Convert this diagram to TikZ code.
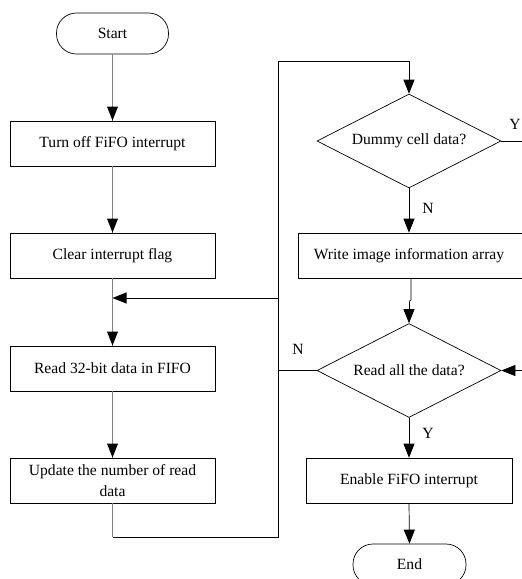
\documentclass[tikz,border=0pt]{standalone}
\usepackage{fontspec}
\setmainfont{Liberation Serif}
\usetikzlibrary{shapes.geometric,arrows.meta}
\begin{document}
\begin{tikzpicture}[x=1pt,y=-1pt,
  every node/.style={font=\fontsize{15.6}{18}\selectfont},
  proc/.style={draw,line width=0.7pt,minimum height=45pt,inner sep=1pt,align=center},
  term/.style={draw,line width=0.7pt,rounded corners=20pt,minimum width=112pt,minimum height=41pt},
  dec/.style={draw,line width=0.7pt,diamond,aspect=1.96,minimum width=184pt,minimum height=94pt,inner sep=0pt},
  conn/.style={line width=0.7pt},
  gconn/.style={line width=0.9pt,draw=black!50},
  arr/.style={-{Triangle[length=14pt,width=11pt]}},
  lbl/.style={inner sep=0pt}]
\useasboundingbox (0,0) rectangle (522,579);
\clip (0,0) rectangle (522,579);
% nodes
\node[term] (start) at (112.5,33.5) {Start};
\node[proc,minimum width=205pt] (off) at (112.5,143.5) {Turn off FiFO interrupt};
\node[proc,minimum width=205pt] (clr) at (112.5,255.5) {Clear interrupt flag};
\node[proc,minimum width=205pt] (rd) at (112.5,368.5) {Read 32-bit data in FIFO};
\node[proc,minimum width=205pt,font=\fontsize{15.6}{21.5}\selectfont] (upd) at (112.5,480.5) {Update the number of read\\data};
\node[dec] (dum) at (409,141) {Dummy cell data?};
\node[proc,minimum width=232pt] (wr) at (414,255.5) {};
\node at (409,255.5) {Write image information array};
\node[dec] (all) at (409,370.5) {Read all the data?};
\node[proc,minimum width=206pt] (en) at (409,480.5) {Enable FiFO interrupt};
\node[term,minimum width=113pt] (end) at (409.5,564.5) {End};
% helper coordinates
\coordinate (merge) at (112.5,298);
\coordinate (lowL) at (112.5,537);
\coordinate (lowR) at (278,537);
\coordinate (topL) at (278,61);
\coordinate (topR) at (409,61);
\coordinate (midL) at (278,298);
\coordinate (nL) at (278,370.5);
\coordinate (yR) at (530,141);
\coordinate (rR) at (530,370.5);
\coordinate (j1) at (411,300);
\coordinate (j2) at (409,301.5);
% connectors
\draw[gconn] (start.south) -- (off.north);
\fill (off.north) -- ++(-5.5,-14) -- ++(11,0) -- cycle;
\draw[gconn] (off.south) -- (clr.north);
\fill (clr.north) -- ++(-5.5,-14) -- ++(11,0) -- cycle;
\draw[gconn] (clr.south) -- (rd.north);
\fill (rd.north) -- ++(-5.5,-14) -- ++(11,0) -- cycle;
\draw[gconn] (rd.south) -- (upd.north);
\fill (upd.north) -- ++(-5.5,-14) -- ++(11,0) -- cycle;
\draw[gconn] (upd.south) -- (lowL);
\draw[conn] (lowL) -- (lowR) -- (topL) -- (topR);
\draw[conn,arr] (topR) -- (dum.north);
\draw[conn,arr] (midL) -- (merge);
\draw[conn] (all.west) -- (nL);
\node[lbl] at (298,349) {N};
\draw[conn,arr] (dum.south) -- (wr.north -| dum.south);
\node[lbl] at (428,208) {N};
\draw[conn] (dum.east) -- (yR);
\node[lbl] at (515,124) {Y};
\draw[conn] (wr.south -| j1) -- (j1) -- (j2);
\draw[conn,arr] (j2) -- (all.north);
\draw[conn,arr] (rR) -- (all.east);
\draw[conn,arr] (all.south) -- (en.north);
\node[lbl] at (428,433) {Y};
\draw[conn,arr] (en.south) -- (end.north);
\end{tikzpicture}
\end{document}
